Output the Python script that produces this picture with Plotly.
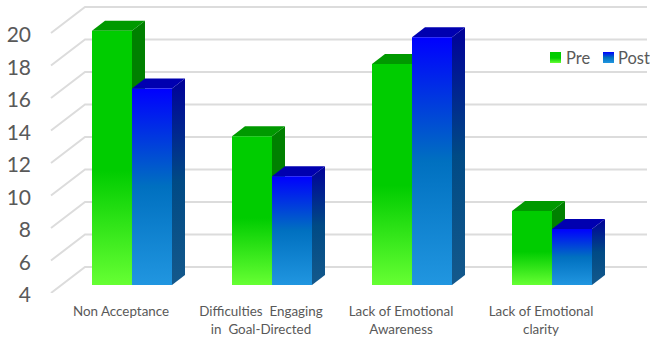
import plotly.graph_objects as go

categories = ["Non Acceptance", "Difficulties  Engaging<br>in  Goal-Directed",
              "Lack of Emotional<br>Awareness", "Lack of Emotional<br>clarity"]
pre_values = [19.65, 13.15, 17.6, 8.55]
post_values = [16.1, 10.7, 19.25, 7.45]
y_ticks = [4, 6, 8, 10, 12, 14, 16, 18, 20]

WIDTH, HEIGHT = 650, 338
PX_PER_CAT = 140.0      # horizontal pixels between categories
PX_PER_UNIT = 16.25     # vertical pixels per axis unit
X_RANGE = [-121 / PX_PER_CAT, 529 / PX_PER_CAT]
Y_RANGE = [4, 4 + 293 / PX_PER_UNIT]
BASE = y_ticks[0]

# Pseudo-3D depth, converted into axis units
BAR_W = 40 / PX_PER_CAT
PLANE_DX, PLANE_DY = 11 / PX_PER_CAT, 8 / PX_PER_UNIT       # floor front to bar front
BAR_DX, BAR_DY = 13 / PX_PER_CAT, 10 / PX_PER_UNIT          # bar thickness
WALL_DX, WALL_DY = 34 / PX_PER_CAT, 26 / PX_PER_UNIT        # floor front to back wall

PRE = dict(
    front=[[0, "#00cc00"], [0.55, "#00cc00"], [1, "#66ff33"]],
    side=[[0, "#008000"], [1, "#008000"]],
    top="#009900",
)
POST = dict(
    front=[[0, "#0000ff"], [0.5, "#0070c0"], [1, "#2196e0"]],
    side=[[0, "#000099"], [0.5, "#004a85"], [1, "#14598c"]],
    top="#0000b0",
)

fig = go.Figure()


def polygon(xs, ys, scale=None, color=None):
    """Closed filled polygon, either flat or with a top-to-bottom gradient."""
    kw = dict(x=xs + xs[:1], y=ys + ys[:1], mode="lines", fill="toself",
              line=dict(width=0), hoverinfo="skip", showlegend=False)
    if scale is not None:
        kw["fillgradient"] = dict(type="vertical", colorscale=scale,
                                  start=max(ys), stop=min(ys))
    else:
        kw["fillcolor"] = color
    fig.add_trace(go.Scatter(**kw))


# Gridlines: slanted left wall plus back wall
grid_x, grid_y = [], []
for t in y_ticks:
    grid_x += [X_RANGE[0] + 51 / PX_PER_CAT, X_RANGE[0] + 51 / PX_PER_CAT + WALL_DX, X_RANGE[1] - 3 / PX_PER_CAT, None]
    grid_y += [t, t + WALL_DY, t + WALL_DY, None]
fig.add_trace(go.Scatter(x=grid_x, y=grid_y, mode="lines", hoverinfo="skip", showlegend=False,
                         line=dict(color="#dcdcdc", width=2)))


def bar(center, value, left, style):
    x0 = center + PLANE_DX + (-BAR_W if left else 0)
    x1 = x0 + BAR_W
    b = BASE + PLANE_DY
    v = value + PLANE_DY
    polygon([x1, x1 + BAR_DX, x1 + BAR_DX, x1], [b, b + BAR_DY, v + BAR_DY, v], scale=style["side"])
    polygon([x0, x0 + BAR_DX, x1 + BAR_DX, x1], [v, v + BAR_DY, v + BAR_DY, v], color=style["top"])
    polygon([x0, x1, x1, x0], [b, b, v, v], scale=style["front"])


for i, (a, c) in enumerate(zip(pre_values, post_values)):
    bar(i, a, True, PRE)
    bar(i, c, False, POST)


# Legend swatches and their labels
def px_x(p):
    return X_RANGE[0] + p / PX_PER_CAT


def px_y(p):
    return Y_RANGE[1] - p / PX_PER_UNIT


for x_left, style, label, text_x in [(550, PRE, "Pre", 564), (603, POST, "Post", 616)]:
    polygon([px_x(x_left), px_x(x_left + 11), px_x(x_left + 11), px_x(x_left)],
            [px_y(63), px_y(63), px_y(52), px_y(52)], scale=style["front"])
    fig.add_annotation(x=px_x(text_x), y=px_y(57.5), text=label, showarrow=False, xanchor="left",
                       font=dict(family="Lato", size=16.5, color="#595959"))

fig.update_layout(
    width=WIDTH, height=HEIGHT, margin=dict(l=0, r=0, t=0, b=HEIGHT - 293),
    paper_bgcolor="white", plot_bgcolor="white", showlegend=False,
    font=dict(family="Lato", color="#595959"),
    xaxis=dict(range=X_RANGE, tickmode="array", tickvals=list(range(len(categories))), ticktext=categories,
               showgrid=False, zeroline=False, showline=False, ticks="", ticklabelstandoff=9,
               tickfont=dict(size=13.4, color="#595959"), fixedrange=True),
    yaxis=dict(range=Y_RANGE, anchor="free", position=31 / WIDTH, tickmode="array", tickvals=y_ticks,
               showgrid=False, zeroline=False, showline=False, ticks="", ticklabelshift=2,
               tickfont=dict(size=21, color="#595959"), fixedrange=True),
)
fig.write_html("out.html", config=dict(displayModeBar=False))
